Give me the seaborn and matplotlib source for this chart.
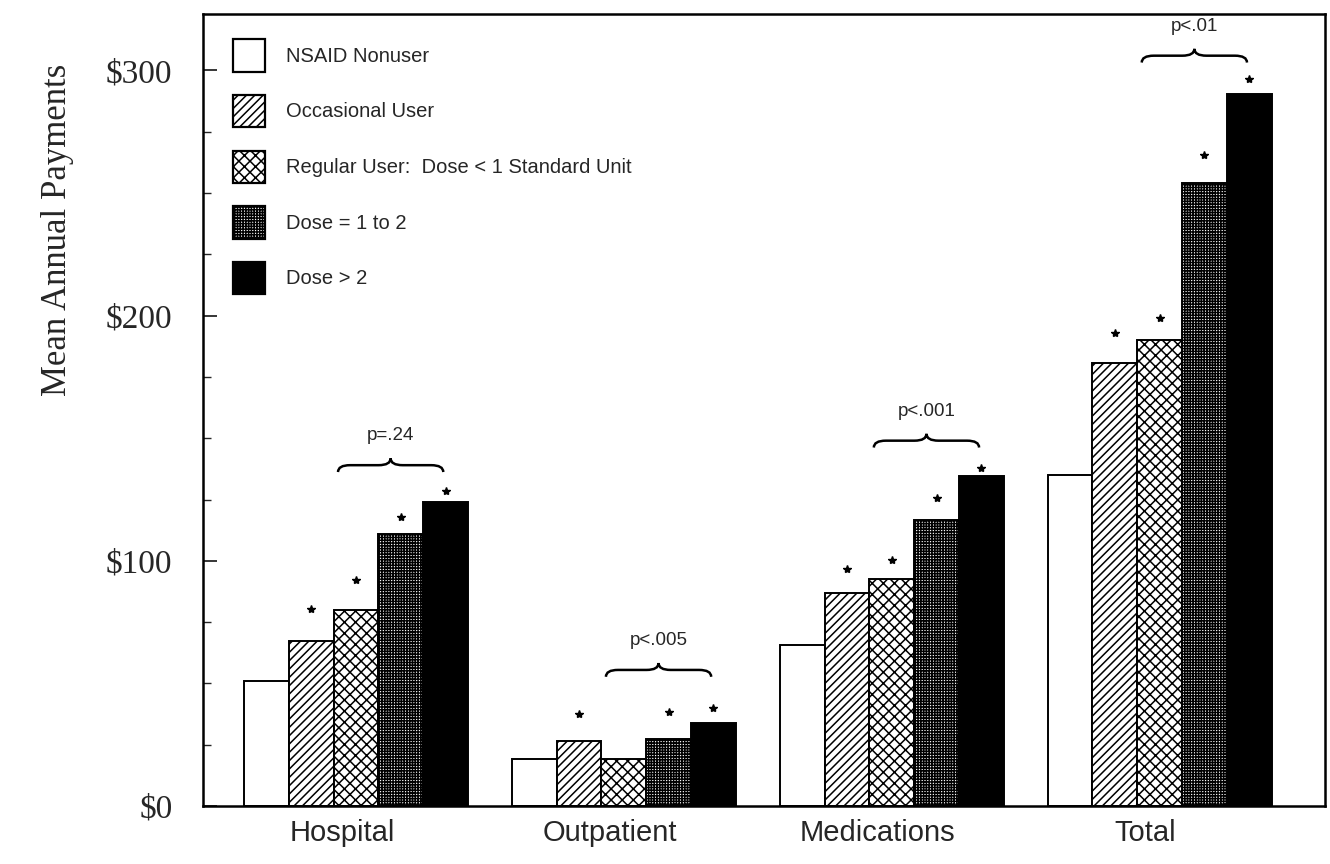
import matplotlib
matplotlib.use("Agg")
import matplotlib.pyplot as plt
import matplotlib.transforms as mtransforms
from matplotlib.path import Path
from matplotlib.patches import PathPatch, Patch
from matplotlib.ticker import FixedLocator, MultipleLocator, FuncFormatter
import seaborn as sns
import pandas as pd

categories = ["Hospital", "Outpatient", "Medications", "Total"]
groups = ["NSAID Nonuser", "Occasional User",
          "Regular User:  Dose < 1 Standard Unit", "Dose = 1 to 2", "Dose > 2"]

nonuser = [51, 19, 65.5, 135]
occasional = [67.5, 26.5, 87, 180.5]
regular_low = [80, 19, 92.5, 190]
dose_1_2 = [111, 27.5, 116.5, 254]
dose_high = [124, 34, 134.5, 290.5]

# asterisk heights above bars (None = no asterisk)
star_occasional = [80.5, 37.5, 96.5, 193]
star_regular_low = [92, None, 100.5, 199]
star_dose_1_2 = [118, 38.5, 125.5, 265.5]
star_dose_high = [128.5, 40, 138, 296.5]

brace_y = [139, 55.5, 149, 306]
p_labels = ["p=.24", "p<.005", "p<.001", "p<.01"]

y_ticks = [0, 100, 200, 300]

faces = ["white", "white", "white", "white", "black"]
hatches = ["", "////", "xxx", "++++++", ""]

series = [nonuser, occasional, regular_low, dose_1_2, dose_high]
stars = [None, star_occasional, star_regular_low, star_dose_1_2, star_dose_high]

rows = []
for g, vals in zip(groups, series):
    for c, v in zip(categories, vals):
        rows.append({"category": c, "group": g, "value": v})
df = pd.DataFrame(rows)

sns.set_style("ticks")
plt.rcParams["font.family"] = ["Liberation Sans", "DejaVu Sans"]
plt.rcParams["hatch.linewidth"] = 1.1

fig = plt.figure(figsize=(13.3, 8.64), dpi=100)
ax = fig.add_axes([0.1526, 0.0671, 0.996 - 0.1526, 0.9838 - 0.0671])

sns.barplot(data=df, x="category", y="value", hue="group", order=categories,
            hue_order=groups, palette=dict(zip(groups, faces)), width=0.836,
            edgecolor="black", linewidth=1.4, saturation=1, legend=False, ax=ax)

for cont, h in zip(ax.containers, hatches):
    for p in cont:
        p.set_hatch(h)
        p.set_edgecolor("black")

# asterisks
for cont, st in zip(ax.containers, stars):
    if st is None:
        continue
    for p, s in zip(cont, st):
        if s is None:
            continue
        ax.plot(p.get_x() + p.get_width() / 2, s, marker="*", color="black",
                markersize=6, zorder=5)


def draw_brace(x0, x1, y, h=2.8, d=0.045):
    xm = (x0 + x1) / 2
    verts = [(x0, y - h), (x0, y), (x0 + d, y),
             (xm - d, y),
             (xm, y), (xm, y + h),
             (xm, y), (xm + d, y),
             (x1 - d, y),
             (x1, y), (x1, y - h)]
    codes = [Path.MOVETO, Path.CURVE3, Path.CURVE3,
             Path.LINETO,
             Path.CURVE3, Path.CURVE3,
             Path.CURVE3, Path.CURVE3,
             Path.LINETO,
             Path.CURVE3, Path.CURVE3]
    ax.add_patch(PathPatch(Path(verts, codes), fill=False, lw=1.8,
                           edgecolor="black", zorder=5))
    return xm


reg_bars = ax.containers[2]
top_bars = ax.containers[4]
for i in range(len(categories)):
    rb = reg_bars[i]
    tb = top_bars[i]
    x0 = rb.get_x() + rb.get_width() * 0.1
    x1 = tb.get_x() + tb.get_width() * 0.45
    xm = draw_brace(x0, x1, brace_y[i])
    ax.text(xm, brace_y[i] + 12, p_labels[i], ha="center", va="center",
            fontsize=13.5)

ax.set_xlim(-0.571, 3.616)
ax.set_ylim(0, 323)
ax.yaxis.set_major_locator(FixedLocator(y_ticks))
ax.yaxis.set_minor_locator(MultipleLocator(25))
ax.yaxis.set_major_formatter(FuncFormatter(lambda v, pos: f"${v:.0f}"))
ax.tick_params(axis="y", which="major", direction="in", length=10, width=1.3,
               pad=22, labelsize=24)
ax.tick_params(axis="y", which="minor", direction="in", length=6, width=1.0)
ax.tick_params(axis="x", length=0, pad=9, labelsize=21)
for lab in ax.get_yticklabels():
    lab.set_family(["Liberation Serif"])
offset = mtransforms.ScaledTranslation(-0.14, 0, fig.dpi_scale_trans)
for lab in ax.get_xticklabels():
    lab.set_transform(lab.get_transform() + offset)

for s in ax.spines.values():
    s.set_visible(True)
    s.set_linewidth(1.8)
    s.set_color("black")

ax.set_xlabel("")
ax.set_ylabel("Mean Annual Payments", family=["Liberation Serif"], fontsize=25)
ax.yaxis.set_label_coords(-0.115, 0.727)

handles = [Patch(facecolor=f, edgecolor="black", hatch=h, linewidth=1.6)
           for f, h in zip(faces, hatches)]
ax.legend(handles, groups, loc="upper left", frameon=False, fontsize=14.5,
          handlelength=1.6, handleheight=2.1, labelspacing=1.15,
          handletextpad=1.0, bbox_to_anchor=(0.027, 0.968), borderaxespad=0,
          borderpad=0)

fig.savefig("out.png", dpi=100)
